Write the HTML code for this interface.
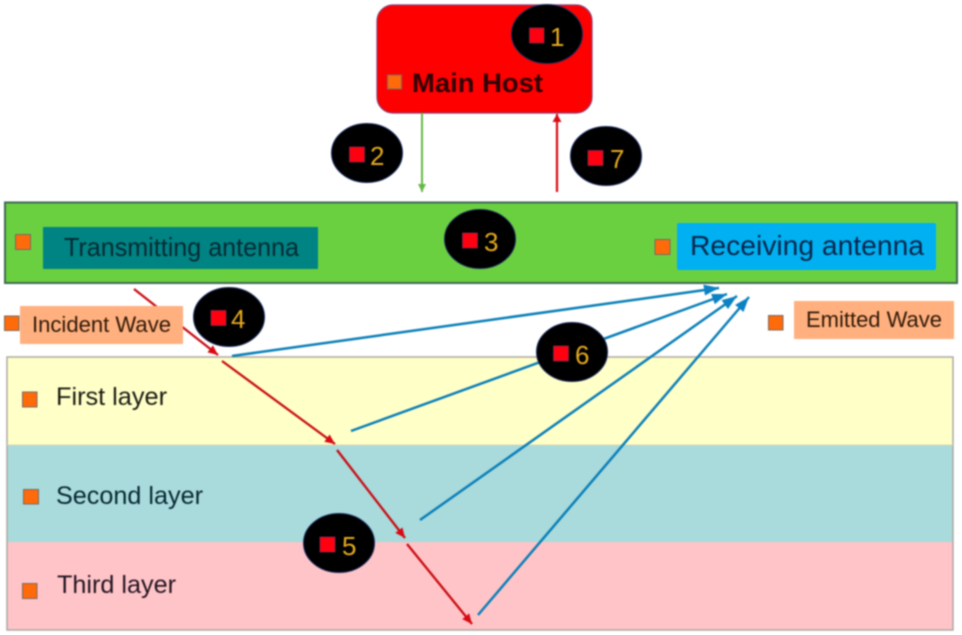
<!DOCTYPE html>
<html>
<head>
<meta charset="utf-8">
<style>
html,body{margin:0;padding:0;background:#fff;width:962px;height:635px;overflow:hidden}
svg{display:block;filter:blur(0.7px)}
text{font-family:"Liberation Sans",sans-serif}
.n{font-size:26px;fill:#e6ab1e}
.o{fill:#ff6a0a;stroke:#7a6a60;stroke-width:1}
.r{fill:#ff0010;stroke:#7a2a50;stroke-width:.8}
</style>
</head>
<body>
<svg width="962" height="635" viewBox="0 0 962 635" xmlns="http://www.w3.org/2000/svg">
<defs>
<marker id="mr" markerUnits="userSpaceOnUse" markerWidth="14" markerHeight="12" refX="10" refY="4.500" orient="auto"><path d="M0 0L10 4.500L0 9Z" fill="#d80a14"/></marker>
<marker id="mv" markerUnits="userSpaceOnUse" markerWidth="12" markerHeight="12" refX="8" refY="4.500" orient="auto"><path d="M0 0L8 4.500L0 9Z" fill="#d80a14"/></marker>
<marker id="mg" markerUnits="userSpaceOnUse" markerWidth="12" markerHeight="10" refX="8" refY="4" orient="auto"><path d="M0 0L8 4L0 8Z" fill="#66b845"/></marker>
<marker id="mb" markerUnits="userSpaceOnUse" markerWidth="18" markerHeight="14" refX="15" refY="5.500" orient="auto"><path d="M0 0L15 5.500L0 11Z" fill="#0a82c4"/></marker>
</defs>

<!-- Layers -->
<rect x="7" y="357" width="946" height="88" fill="#ffffc8"/>
<rect x="7" y="445" width="946" height="97" fill="#a9dadc"/>
<rect x="7" y="542" width="946" height="88" fill="#ffc4c8"/>
<rect x="7" y="357" width="946" height="273" fill="none" stroke="#a8a49c" stroke-width="1.4"/>
<line x1="7" y1="445" x2="953" y2="445" stroke="#d8d8b0" stroke-width="1"/>

<!-- Main host -->
<rect x="377" y="5" width="215" height="108" rx="16" fill="#ff0000" stroke="#8a3a70" stroke-width="1.2"/>

<!-- Antenna bar -->
<rect x="5" y="202.500" width="952" height="80.500" fill="#6bd040" stroke="#3f6a50" stroke-width="2"/>
<rect x="43" y="227" width="275" height="42" fill="#008383"/>
<rect x="677" y="223" width="259" height="47" rx="2" fill="#00b0f0"/>

<!-- Vertical arrows -->
<line x1="422" y1="113" x2="422" y2="192" stroke="#66b845" stroke-width="2" marker-end="url(#mg)"/>
<line x1="557" y1="192" x2="557" y2="114" stroke="#d80a14" stroke-width="2.200" marker-end="url(#mv)"/>

<!-- Red rays -->
<g stroke="#c80d12" stroke-width="2.300" fill="none">
<line x1="134" y1="289" x2="218" y2="355" marker-end="url(#mr)"/>
<line x1="222" y1="361" x2="335" y2="444" marker-end="url(#mr)"/>
<line x1="337" y1="450" x2="405" y2="538" marker-end="url(#mr)"/>
<line x1="407" y1="544" x2="472" y2="624" marker-end="url(#mr)"/>
</g>

<!-- Blue rays -->
<g stroke="#0a7fb8" stroke-width="2.500" fill="none">
<line x1="232" y1="356" x2="719" y2="288" marker-end="url(#mb)"/>
<line x1="351" y1="431" x2="727" y2="294" marker-end="url(#mb)"/>
<line x1="420" y1="520" x2="737" y2="296" marker-end="url(#mb)"/>
<line x1="478" y1="615" x2="749" y2="297" marker-end="url(#mb)"/>
</g>

<!-- Label boxes -->
<rect x="20" y="306" width="163" height="38" fill="#ffb07e"/>
<rect x="794" y="301" width="160" height="38" fill="#ffb07e"/>

<!-- Orange squares -->
<rect class="o" x="387.500" y="75" width="14" height="14"/>
<rect class="o" x="15.500" y="234.500" width="15" height="15"/>
<rect class="o" x="655" y="239.500" width="15" height="15"/>
<rect class="o" x="4.500" y="316" width="14.500" height="14.500"/>
<rect class="o" x="768.500" y="315.500" width="14.500" height="14.500"/>
<rect class="o" x="22.500" y="392" width="14.500" height="15"/>
<rect class="o" x="23.500" y="489.500" width="15" height="14.500"/>
<rect class="o" x="22.500" y="583.500" width="14.500" height="15"/>

<!-- Text labels -->
<text x="412" y="92" font-size="27" font-weight="bold" fill="#300006" textLength="131" lengthAdjust="spacingAndGlyphs">Main Host</text>
<text x="64" y="256" font-size="26" fill="#042a34" textLength="235" lengthAdjust="spacingAndGlyphs">Transmitting antenna</text>
<text x="690" y="255" font-size="28" fill="#06264e" textLength="234" lengthAdjust="spacingAndGlyphs">Receiving antenna</text>
<text x="32" y="332" font-size="22" fill="#301808" textLength="139" lengthAdjust="spacingAndGlyphs">Incident Wave</text>
<text x="806" y="327" font-size="22" fill="#301808" textLength="136" lengthAdjust="spacingAndGlyphs">Emitted Wave</text>
<text x="56" y="405" font-size="25" fill="#1a1a12" textLength="111" lengthAdjust="spacingAndGlyphs">First layer</text>
<text x="56" y="504" font-size="25" fill="#062830" textLength="147" lengthAdjust="spacingAndGlyphs">Second layer</text>
<text x="57" y="593" font-size="25" fill="#221420" textLength="119" lengthAdjust="spacingAndGlyphs">Third layer</text>

<!-- Numbered badges -->
<g fill="#000" stroke="#1c2c60" stroke-width="1">
<ellipse cx="547" cy="34" rx="35.500" ry="29.500"/>
<ellipse cx="367" cy="153" rx="35.500" ry="29.500"/>
<ellipse cx="606" cy="156" rx="35.500" ry="29.500"/>
<ellipse cx="480" cy="239" rx="35.500" ry="29.500"/>
<ellipse cx="229" cy="317" rx="35.500" ry="29.500"/>
<ellipse cx="339" cy="543" rx="35.500" ry="29.500"/>
<ellipse cx="572" cy="352" rx="35.500" ry="29.500"/>
</g>
<rect class="r" x="529.500" y="28" width="14.500" height="15"/>
<rect class="r" x="349.500" y="147" width="15" height="15"/>
<rect class="r" x="588" y="150.500" width="15" height="15"/>
<rect class="r" x="462.500" y="233" width="15" height="15"/>
<rect class="r" x="211" y="310.500" width="15" height="15"/>
<rect class="r" x="320" y="537" width="15" height="15"/>
<rect class="r" x="553.500" y="346" width="15" height="15"/>
<text class="n" x="550" y="46">1</text>
<text class="n" x="370" y="165">2</text>
<text class="n" x="610" y="168">7</text>
<text class="n" x="484" y="251">3</text>
<text class="n" x="231" y="328">4</text>
<text class="n" x="342" y="555">5</text>
<text class="n" x="575" y="364">6</text>
</svg>
</body>
</html>
